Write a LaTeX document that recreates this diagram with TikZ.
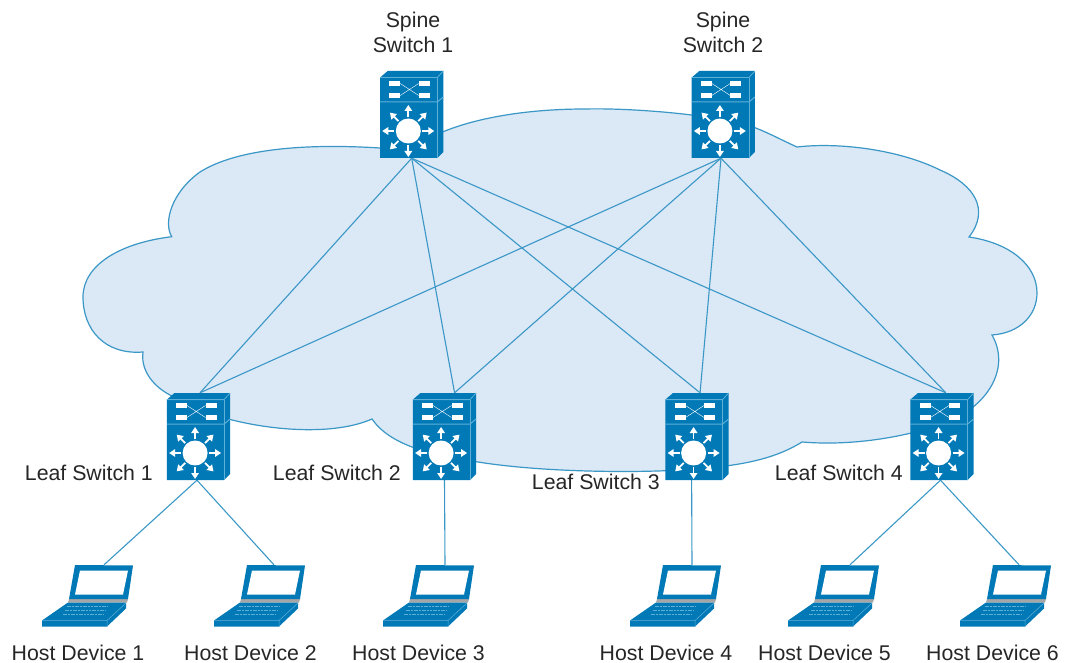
\documentclass[tikz,border=0pt]{standalone}
\usepackage{fontspec}
\setmainfont{Liberation Sans}
\usetikzlibrary{arrows.meta}
\definecolor{ciscoblue}{HTML}{0079B6}
\definecolor{cloudfill}{HTML}{DBE8F6}
\definecolor{cloudline}{HTML}{3A97C6}
\definecolor{facelight}{HTML}{5FB0D8}
\tikzset{
  link/.style={draw=cloudline, line width=1.1pt},
  switchbox/.style={minimum width=64pt, minimum height=87pt, inner sep=0pt},
  hostbox/.style={minimum width=58pt, minimum height=33pt, inner sep=0pt},
  caption/.style={font=\fontsize{21.3}{25.5}\selectfont, text=black!85, inner sep=0pt, align=center},
  switchicon/.pic={
    % body, top and side
    \fill[ciscoblue] (-31.7,-36.9) -- (-24,-43.5) -- (31.6,-43.5) -- (31.6,37.5) -- (25.6,43.5) -- (-31.7,43.5) -- cycle;
    \draw[facelight, line width=0.8pt] (-31.7,-36.9) -- (25.6,-36.9) -- (31.6,-43.5);
    \draw[facelight, line width=0.8pt] (25.6,-36.9) -- (25.6,43.5);
    \draw[facelight, line width=1pt] (-31.7,-12.5) -- (25.6,-12.5) -- (31.6,-17.5);
    % upper panel
    \foreach \px/\py in {-22.5/-28.5, 7/-28.5, -22.5/-16.5, 7/-16.5}
      \fill[white] (\px,\py) rectangle ++(11,-4.6);
    \draw[white, line width=0.4pt] (-11.5,-31) -- (7,-19) (-11.5,-19) -- (7,-31);
    % lower panel
    \fill[white] (-3.4,16.5) circle (12.5);
    \foreach \ang in {0,45,...,315}
      \draw[white, line width=1.7pt, -{Triangle[length=6pt, width=7.5pt]}] (-3.4,16.5) ++(\ang:14) -- ++(\ang:12);
  },
  laptopicon/.pic={
    % screen
    \fill[black!35] (-35,17.5) -- (24,17.5) -- (23,21) -- (-36,21) -- cycle;
    \fill[ciscoblue] (-29,-16.5) -- (29,-16) -- (24,17.5) -- (-35,17.5) -- cycle;
    \fill[white] (-24,-11) -- (24,-11) -- (19,13) -- (-29,13) -- cycle;
    % base
    \fill[ciscoblue] (-36,21) -- (22,21) -- (22,27) -- (3,45) -- (-62,45) -- (-62,39) -- cycle;
    \draw[facelight, line width=0.5pt] (-62,39) -- (3,39) -- (22,21.5) (3,39) -- (3,45);
    \foreach \kb in {25,29,33}
      \draw[facelight, line width=0.5pt, dash pattern=on 2pt off 0.7pt] (-36-\kb/2+11,\kb) -- (14-\kb/2+2,\kb);
  }
}
\begin{document}
\begin{tikzpicture}[x=1pt, y=-1pt]
\useasboundingbox (0,0) rectangle (1068,663);
% cloud
\filldraw[fill=cloudfill, draw=cloudline, line width=1.2pt]
  (171.7,236.7) .. controls (163,222) and (172,192) .. (200,172)
  .. controls (235,150) and (300,143) .. (380,148)
  .. controls (410,146) and (425,139) .. (445,131)
  .. controls (480,117) and (530,109) .. (585,109)
  .. controls (620,108) and (690,112) .. (740,123)
  .. controls (760,128) and (775,137) .. (797,147)
  .. controls (840,142) and (900,150) .. (940,170)
  .. controls (975,185) and (990,210) .. (969,237)
  .. controls (1010,243) and (1037,265) .. (1037,293)
  .. controls (1037,315) and (1020,333) .. (992,335)
  .. controls (1012,370) and (985,410) .. (940,425)
  .. controls (900,438) and (850,446) .. (802,442)
  .. controls (770,462) and (730,467) .. (680,470)
  .. controls (630,473) and (540,472) .. (478,462)
  .. controls (430,455) and (390,445) .. (372,419)
  .. controls (320,442) and (215,425) .. (170,395)
  .. controls (160,390) and (140,375) .. (143,352)
  .. controls (105,355) and (83,330) .. (83,297)
  .. controls (83,265) and (120,243) .. (171.7,236.7)
  -- cycle;
% switches
\node[switchbox] (spine1) at (411.7,114.5) {};
\node[switchbox] (spine2) at (723.3,114.5) {};
\node[switchbox] (leaf1) at (198.5,436.5) {};
\node[switchbox] (leaf2) at (444.5,436.5) {};
\node[switchbox] (leaf3) at (697,436.5) {};
\node[switchbox] (leaf4) at (942,436.5) {};
% hosts
\node[hostbox] (host1) at (104,581.5) {};
\node[hostbox] (host2) at (276,581.5) {};
\node[hostbox] (host3) at (445,581.5) {};
\node[hostbox] (host4) at (692,581.5) {};
\node[hostbox] (host5) at (850,581.5) {};
\node[hostbox] (host6) at (1022,581.5) {};
% links
\foreach \leaf/\ang in {leaf1/88, leaf2/77, leaf3/86, leaf4/85} {
  \draw[link] (spine1.south) -- (\leaf.\ang);
  \draw[link] (spine2.-93) -- (\leaf.\ang);
}
\draw[link] (leaf1.-92) -- (host1.north);
\draw[link] (leaf1.-92) -- (host2.97);
\draw[link] (leaf2.south) -- (host3.north);
\draw[link] (leaf3.263) -- (host4.north);
\draw[link] (leaf4.-92) -- (host5.north);
\draw[link] (leaf4.-92) -- (host6.100);
% icons on top
\foreach \sw in {spine1,spine2,leaf1,leaf2,leaf3,leaf4}
  \pic at (\sw) {switchicon};
\foreach \hs in {host1,host2,host3,host4,host5,host6}
  \pic at (\hs) {laptopicon};
% labels
\node[caption] (spine1label) at (413,32.5) {Spine\\Switch 1};
\node[caption] (spine2label) at (723,32.5) {Spine\\Switch 2};
\node[caption, anchor=east] (leaf1label) at (153,473) {Leaf Switch 1};
\node[caption, anchor=east] (leaf2label) at (401,473) {Leaf Switch 2};
\node[caption, anchor=east] (leaf3label) at (660,482) {Leaf Switch 3};
\node[caption, anchor=east] (leaf4label) at (903,473) {Leaf Switch 4};
\node[caption] (host1label) at (78,653) {Host Device 1};
\node[caption] (host2label) at (250.5,653) {Host Device 2};
\node[caption] (host3label) at (418.5,653) {Host Device 3};
\node[caption] (host4label) at (666,653) {Host Device 4};
\node[caption] (host5label) at (824.5,653) {Host Device 5};
\node[caption] (host6label) at (992.5,653) {Host Device 6};
\end{tikzpicture}
\end{document}
